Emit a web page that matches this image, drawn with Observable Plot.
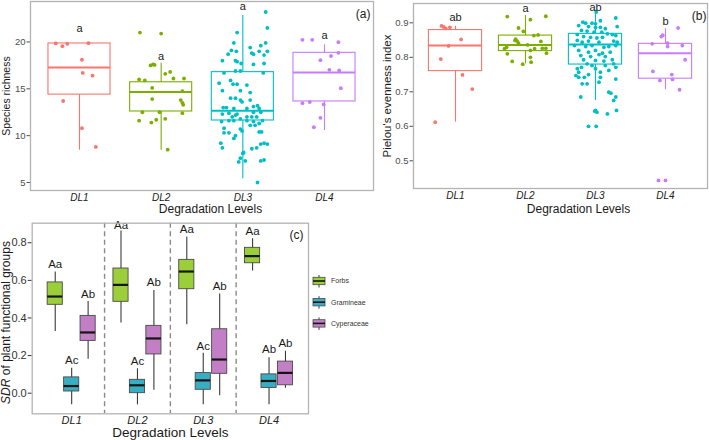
<!DOCTYPE html>
<html>
<head>
<meta charset="utf-8">
<script src="https://cdn.jsdelivr.net/npm/d3@7"></script>
<script src="https://cdn.jsdelivr.net/npm/@observablehq/plot@0.6"></script>
<style>
  body { margin: 0; background: #fff; }
  #fig { position: relative; width: 709px; height: 440px; overflow: hidden; background: #fff; }
  #fig > svg { position: absolute; }
</style>
</head>
<body>
<div id="fig"></div>
<script>
// ---------- categories and colours ----------
const levels = ["DL1", "DL2", "DL3", "DL4"];
const levelColors = ["#F8766D", "#7CAE00", "#00BFC4", "#C77CFF"];
const groups = ["Forbs", "Gramineae", "Cyperaceae"];
const groupColors = ["#9BCF3A", "#38AEC2", "#C27FC6"];
const xTitle = "Degradation Levels";

// ---------- (a) species richness: [jittered level position, value] ----------
const richnessDL1 = [[0.71,19.84],[0.79,19.55],[0.85,19.8],[1.11,19.87],[1.03,18.1],[1.04,16.7],[1.16,16.4],[0.80,13.7],[1.03,10.8],[1.20,8.8]];
const richnessDL2 = [[1.74,21.0],[2.00,20.9],[1.87,17.5],[1.90,17.6],[1.92,17.55],[2.05,16.6],[2.11,16.8],[2.15,16.1],[2.28,16.1],[1.73,16.0],[1.80,15.9],[1.89,15.1],[2.26,14.75],[1.89,13.9],[2.24,13.8],[2.26,13.5],[2.27,13.3],[1.77,12.5],[1.98,12.5],[2.26,12.4],[1.73,11.6],[1.88,11.4],[1.94,11.7],[2.05,11.8],[2.08,8.5]];
const richnessDL3 = [[3.28,23.2],[3.30,21.5],[2.93,21.0],[2.89,19.9],[3.28,19.9],[3.09,19.4],[3.22,19.6],[2.86,19.1],[2.92,19.0],[3.20,19.0],[3.30,19.0],[2.82,18.7],[3.11,18.8],[3.13,18.7],[3.26,18.6],[2.75,18.0],[2.91,18.0],[2.93,17.9],[2.98,17.7],[3.13,17.6],[3.26,17.7],[2.77,16.7],[2.91,16.9],[2.97,16.9],[3.25,16.7],[2.85,15.9],[2.71,15.6],[2.88,15.5],[2.93,15.5],[3.05,15.4],[2.75,14.8],[2.97,14.8],[3.09,14.6],[2.85,14.0],[2.91,14.0],[2.97,13.8],[2.99,13.6],[3.09,13.8],[2.76,13.0],[2.80,13.0],[2.89,12.9],[3.05,12.9],[3.13,13.1],[3.18,13.2],[3.20,12.9],[2.75,12.3],[2.83,12.4],[2.93,12.3],[3.13,12.5],[3.22,12.5],[2.87,12.0],[2.91,12.2],[3.05,12.0],[3.11,12.0],[3.17,12.0],[2.74,11.5],[2.83,11.6],[2.89,11.6],[2.97,11.8],[3.05,11.6],[3.13,11.5],[3.24,11.6],[3.20,11.3],[2.77,10.8],[2.97,10.7],[3.09,11.1],[3.15,11.1],[2.77,10.3],[2.83,10.3],[2.91,10.0],[2.99,10.5],[3.20,10.4],[3.23,10.4],[2.89,9.7],[2.73,9.2],[3.26,9.2],[3.30,9.1],[3.22,9.1],[2.75,8.7],[3.11,8.6],[3.17,8.7],[3.01,8.2],[3.00,8.1],[2.97,7.6],[2.95,7.2],[3.03,7.3],[3.26,7.4],[3.22,7.3],[3.18,5.0]];
const richnessDL4 = [[3.73,20.23],[3.85,20.23],[4.17,19.98],[4.17,18.84],[4.08,18.5],[3.95,18.06],[4.06,17.03],[4.18,16.96],[4.20,15.07],[3.73,13.47],[3.82,13.58],[3.99,13.33],[3.95,11.9],[3.87,10.9]];
// box statistics per level: [lower whisker, Q1, median, Q3, upper whisker]
const richnessBoxes = [[8.45,14.38,17.28,19.84,19.84],[8.45,12.58,14.66,15.7,17.74],[5.4,11.62,12.65,16.78,22.83],[10.55,13.65,16.74,18.84,19.7]];
const richnessLetters = ["a", "a", "a", "a"];
const richnessLetterY = [21.44, 18.48, 23.79, 20.69];
const richnessTicks = [5, 10, 15, 20];

// ---------- (b) Pielou's evenness ----------
const evennessDL1 = [[0.80,0.891],[0.83,0.888],[0.92,0.887],[0.86,0.884],[1.08,0.852],[0.90,0.833],[0.79,0.795],[1.10,0.749],[1.24,0.708],[0.71,0.612]];
const evennessDL2 = [[1.74,0.918],[2.07,0.909],[2.29,0.919],[1.90,0.885],[1.97,0.875],[1.86,0.853],[1.88,0.847],[1.90,0.841],[1.85,0.849],[2.03,0.836],[2.12,0.863],[2.18,0.865],[2.22,0.846],[1.73,0.829],[1.70,0.825],[1.74,0.810],[2.07,0.820],[2.13,0.825],[2.24,0.826],[2.29,0.826],[2.30,0.812],[2.07,0.800],[1.81,0.788],[1.96,0.780],[2.08,0.786]];
const evennessDL3 = [[3.01,0.931],[3.29,0.914],[2.82,0.902],[2.86,0.899],[2.95,0.899],[3.00,0.897],[3.07,0.906],[2.76,0.892],[2.90,0.889],[3.00,0.886],[3.07,0.887],[3.14,0.883],[3.31,0.889],[2.80,0.878],[2.88,0.876],[2.98,0.873],[3.09,0.873],[3.17,0.868],[3.24,0.866],[3.29,0.863],[2.74,0.866],[2.83,0.860],[2.93,0.858],[3.02,0.856],[3.10,0.858],[2.74,0.849],[2.81,0.844],[2.90,0.847],[3.05,0.844],[3.26,0.847],[3.31,0.844],[2.70,0.834],[2.86,0.831],[2.95,0.834],[3.12,0.829],[3.19,0.831],[3.29,0.834],[2.76,0.820],[2.90,0.815],[3.00,0.820],[3.10,0.812],[3.21,0.815],[2.79,0.805],[2.93,0.802],[3.05,0.808],[3.14,0.802],[2.83,0.793],[3.00,0.791],[3.12,0.789],[3.24,0.793],[2.88,0.781],[2.95,0.776],[3.14,0.776],[3.26,0.781],[2.74,0.767],[2.80,0.771],[3.00,0.767],[3.19,0.762],[2.76,0.757],[2.90,0.750],[3.07,0.757],[3.29,0.771],[2.72,0.747],[2.76,0.742],[2.84,0.742],[3.07,0.742],[2.88,0.723],[3.05,0.728],[2.81,0.723],[3.29,0.737],[3.29,0.685],[2.79,0.685],[3.19,0.699],[3.22,0.696],[3.26,0.675],[3.00,0.646],[3.02,0.641],[2.99,0.644],[3.17,0.636],[3.30,0.646],[2.90,0.600],[3.01,0.600]];
const evennessDL4 = [[4.18,0.885],[3.94,0.860],[3.96,0.864],[3.81,0.839],[4.03,0.841],[4.03,0.831],[4.24,0.834],[4.28,0.793],[3.82,0.759],[4.09,0.750],[3.92,0.733],[4.10,0.736],[4.20,0.706],[3.90,0.443],[4.00,0.443]];
const evennessBoxes = [[0.612,0.760,0.834,0.879,0.890],[0.781,0.818,0.836,0.863,0.921],[0.675,0.779,0.837,0.868,0.936],[0.706,0.738,0.812,0.839,0.883]];
const evennessLetters = ["ab", "a", "ab", "b"];
const evennessLetterY = [0.9145, 0.943, 0.945, 0.905];
const evennessTicks = [0.5, 0.6, 0.7, 0.8, 0.9];

// ---------- (c) SDR of plant functional groups: box statistics per level ----------
const forbsBoxes = [[0.328,0.470,0.514,0.589,0.644],[0.373,0.486,0.576,0.663,0.862],[0.364,0.553,0.647,0.709,0.830],[0.650,0.691,0.729,0.773,0.821]];
const gramineaeBoxes = [[-0.062,0.009,0.038,0.084,0.133],[-0.062,0.000,0.042,0.071,0.130],[-0.062,0.018,0.068,0.107,0.213],[-0.062,0.028,0.065,0.100,0.188]];
const cyperaceaeBoxes = [[0.181,0.278,0.323,0.411,0.488],[0.015,0.206,0.291,0.358,0.546],[-0.014,0.103,0.179,0.340,0.528],[0.026,0.042,0.108,0.168,0.223]];
const forbsLetters = ["Aa", "Aa", "Aa", "Aa"];
const forbsLetterY = [0.688, 0.892, 0.871, 0.860];
const gramineaeLetters = ["Ac", "Ac", "Ac", "Ab"];
const gramineaeLetterY = [0.174, 0.170, 0.249, 0.231];
const cyperaceaeLetters = ["Ab", "Ab", "Ab", "Ab"];
const cyperaceaeLetterY = [0.528, 0.587, 0.567, 0.266];
const sdrTicks = [0, 0.2, 0.4, 0.6, 0.8];

// ---------- drawing ----------
const fontFamily = '"Liberation Sans", Arial, Helvetica, sans-serif';
const fig = document.getElementById("fig");

function place(svg, left, top) {
  svg.style.left = left + "px";
  svg.style.top = top + "px";
  fig.appendChild(svg);
  return svg;
}

// One jittered box plot panel per response variable
function levelPanel(o) {
  const boxes = o.boxes.map(([lo, q1, med, q3, hi], i) => ({pos: i + 1, level: levels[i], lo, q1, med, q3, hi}));
  const points = o.points.flatMap((pts, i) => pts.map(([pos, value]) => ({pos, value, level: levels[i]})));
  const letters = o.letters.map((t, i) => ({pos: i + 1, y: o.letterY[i], t}));
  const hw = 0.38;
  return Plot.plot({
    width: o.width, height: o.height,
    marginLeft: o.ml, marginRight: o.mr, marginTop: o.mt, marginBottom: o.mb,
    style: {fontFamily, background: "transparent", overflow: "visible"},
    x: {domain: [0.4, 4.6], label: null},
    y: {domain: o.yDomain, label: null},
    color: {domain: levels, range: levelColors},
    marks: [
      Plot.ruleX(boxes, {x: "pos", y1: "lo", y2: "q1", stroke: "level", strokeWidth: 1.1}),
      Plot.ruleX(boxes, {x: "pos", y1: "q3", y2: "hi", stroke: "level", strokeWidth: 1.1}),
      Plot.rect(boxes, {x1: d => d.pos - hw, x2: d => d.pos + hw, y1: "q1", y2: "q3", stroke: "level", strokeWidth: 1.1, fill: "none"}),
      Plot.ruleY(boxes, {y: "med", x1: d => d.pos - hw, x2: d => d.pos + hw, stroke: "level", strokeWidth: 2}),
      Plot.dot(points, {x: "pos", y: "value", fill: "level", r: 1.9}),
      Plot.text(letters, {x: "pos", y: "y", text: "t", fontSize: 11, fill: "#1a1a1a"}),
      Plot.axisY({ticks: o.yTicks, tickFormat: o.yFormat, tickSize: 3.5, tickPadding: 1.5, fontSize: 9.5, color: "#4d4d4d", label: null}),
      Plot.axisX({ticks: [1, 2, 3, 4], tickFormat: d => levels[d - 1], tickSize: 0, tickPadding: 3, fontSize: 10, fontStyle: "italic", color: "#222", label: null}),
      Plot.frame({stroke: "#b3b3b3", strokeWidth: 1.3}),
      Plot.text([o.yTitle], {text: d => d, frameAnchor: "left", dx: o.yTitleDx, rotate: -90, textAnchor: "middle", lineAnchor: "middle", fontSize: o.yTitleSize, fill: "#1a1a1a"}),
      Plot.text([xTitle], {text: d => d, frameAnchor: "bottom", dx: o.xTitleDx, dy: o.xTitleDy, textAnchor: "middle", lineAnchor: "middle", fontSize: 12, fill: "#1a1a1a"}),
      Plot.text([o.tag], {text: d => d, frameAnchor: "top-right", dx: o.tagDx, dy: o.tagDy, textAnchor: "end", lineAnchor: "top", fontSize: 12, fill: "#1a1a1a"})
    ]
  });
}

place(levelPanel({
  points: [richnessDL1, richnessDL2, richnessDL3, richnessDL4],
  boxes: richnessBoxes, letters: richnessLetters, letterY: richnessLetterY,
  yDomain: [4.146, 24.32], yTicks: richnessTicks, yFormat: d => String(d),
  yTitle: "Species richness", yTitleDx: -24, yTitleSize: 10.5,
  xTitleDx: 8.5, xTitleDy: 19, tag: "(a)", tagDx: -3, tagDy: 8,
  width: 376, height: 216, ml: 30, mr: 3, mt: 1, mb: 26
}), 0, 0);

place(levelPanel({
  points: [evennessDL1, evennessDL2, evennessDL3, evennessDL4],
  boxes: evennessBoxes, letters: evennessLetters, letterY: evennessLetterY,
  yDomain: [0.4197, 0.956], yTicks: evennessTicks, yFormat: d3.format(".1f"),
  yTitle: "Pielou's evenness index", yTitleDx: -26, yTitleSize: 11.5,
  xTitleDx: 18, xTitleDy: 21, tag: "(b)", tagDx: -1, tagDy: 8,
  width: 333, height: 216, ml: 37, mr: 2, mt: 3, mb: 28
}), 376, 0);

// Panel (c): dodged box plots of the three functional groups
const sdrTitle = "SDR of plant functional groups";
const sdrRows = [forbsBoxes, gramineaeBoxes, cyperaceaeBoxes].flatMap((stats, g) =>
  stats.map(([lo, q1, med, q3, hi], i) => ({pos: i + 1 + (g - 1) * 0.25, group: groups[g], lo, q1, med, q3, hi})));
const sdrLetters = [[forbsLetters, forbsLetterY], [gramineaeLetters, gramineaeLetterY], [cyperaceaeLetters, cyperaceaeLetterY]]
  .flatMap(([t, y], g) => t.map((s, i) => ({pos: i + 1 + (g - 1) * 0.25, y: y[i], t: s})));
const separators = levels.slice(1).map((_, i) => i + 1.5);
const bw = 0.115;

const panelC = Plot.plot({
  width: 312, height: 224,
  marginLeft: 31.7, marginRight: 4, marginTop: 6.7, marginBottom: 26.7,
  style: {fontFamily, background: "transparent", overflow: "visible"},
  x: {domain: [0.4, 4.6], label: null},
  y: {domain: [-0.1096, 0.904], label: null},
  color: {domain: groups, range: groupColors},
  marks: [
    Plot.ruleX(separators, {x: d => d, stroke: "#8a8a8a", strokeWidth: 1.4, strokeDasharray: "5,3.5"}),
    Plot.ruleX(sdrRows, {x: "pos", y1: "lo", y2: "hi", stroke: "#3a3a3a", strokeWidth: 1.1}),
    Plot.rect(sdrRows, {x1: d => d.pos - bw, x2: d => d.pos + bw, y1: "q1", y2: "q3", fill: "group", stroke: "#4a4a4a", strokeWidth: 0.9}),
    Plot.ruleY(sdrRows, {y: "med", x1: d => d.pos - bw, x2: d => d.pos + bw, stroke: "#151515", strokeWidth: 2.2}),
    Plot.text(sdrLetters, {x: "pos", y: "y", text: "t", fontSize: 11.5, fill: "#1a1a1a"}),
    Plot.axisY({ticks: sdrTicks, tickFormat: d3.format(".1f"), tickSize: 4, tickPadding: 1.5, fontSize: 11, color: "#333", label: null}),
    Plot.axisX({ticks: [1, 2, 3, 4], tickFormat: d => levels[d - 1], tickSize: 0, tickPadding: 2, fontSize: 11, fontStyle: "italic", color: "#222", label: null}),
    Plot.frame({stroke: "#b3b3b3", strokeWidth: 1.3}),
    Plot.text([sdrTitle], {text: d => d, frameAnchor: "left", dx: -25.7, dy: 4, rotate: -90, textAnchor: "middle", lineAnchor: "middle", fontSize: 12, fill: "#1a1a1a"}),
    Plot.text([xTitle], {text: d => d, frameAnchor: "bottom", dy: 19, textAnchor: "middle", lineAnchor: "middle", fontSize: 13.5, fill: "#1a1a1a"}),
    Plot.text(["(c)"], {text: d => d, frameAnchor: "top-right", dx: -5, dy: 7, textAnchor: "end", lineAnchor: "top", fontSize: 12, fill: "#1a1a1a"})
  ]
});
// italicise the "SDR" abbreviation in the y title
d3.select(panelC).selectAll("text").filter(function () { return this.textContent === sdrTitle; })
  .each(function () {
    const t = d3.select(this);
    t.text(null);
    t.append("tspan").attr("font-style", "italic").text("SDR");
    t.append("tspan").text(" of plant functional groups");
  });
place(panelC, 0, 216);

// Legend for panel (c): box-plot glyphs with group names
const legend = d3.create("svg").attr("width", 95).attr("height", 70)
  .style("font-family", fontFamily);
groups.forEach((g, i) => {
  const cy = 13 + i * 21.2;
  const key = legend.append("g");
  key.append("line").attr("x1", 14).attr("x2", 14).attr("y1", cy - 6).attr("y2", cy + 6.5)
    .attr("stroke", "#3a3a3a").attr("stroke-width", 1);
  key.append("rect").attr("x", 8).attr("y", cy - 3.7).attr("width", 12).attr("height", 7.4)
    .attr("fill", groupColors[i]).attr("stroke", "#4a4a4a").attr("stroke-width", 0.8);
  key.append("line").attr("x1", 8).attr("x2", 20).attr("y1", cy).attr("y2", cy)
    .attr("stroke", "#151515").attr("stroke-width", 1.6);
  key.append("text").attr("x", 26).attr("y", cy).attr("dy", "0.35em")
    .attr("font-size", 7).attr("fill", "#333").text(g);
});
place(legend.node(), 305, 268);
</script>
</body>
</html>
